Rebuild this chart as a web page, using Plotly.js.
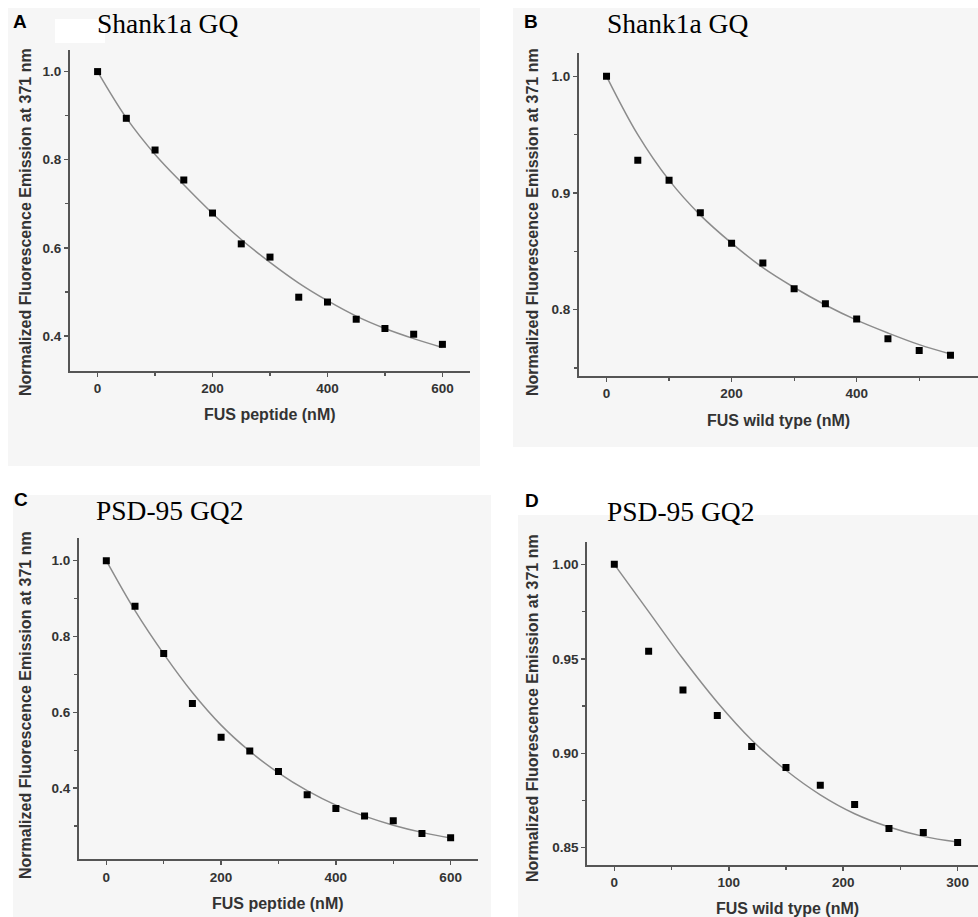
<!DOCTYPE html>
<html>
<head>
<meta charset="utf-8">
<script src="https://cdn.plot.ly/plotly-3.0.1.min.js"></script>
<style>html,body{margin:0;padding:0;background:#fff;}#chart{width:978px;height:917px;}</style>
</head>
<body>
<div id="chart"></div>
<script>
// ---- Data ----
// Panel A: Shank1a GQ vs FUS peptide
const xA = [0, 50, 100, 150, 200, 250, 300, 350, 400, 450, 500, 550, 600];
const yA = [1.0, 0.894, 0.822, 0.754, 0.679, 0.609, 0.579, 0.488, 0.477, 0.438, 0.417, 0.404, 0.381];
const fitA = [1.0, 0.895, 0.812, 0.743, 0.678, 0.619, 0.567, 0.520, 0.480, 0.445, 0.417, 0.394, 0.374];
// Panel B: Shank1a GQ vs FUS wild type
const xB = [0, 50, 100, 150, 200, 250, 300, 350, 400, 450, 500, 550];
const yB = [1.0, 0.928, 0.911, 0.883, 0.857, 0.840, 0.818, 0.805, 0.792, 0.775, 0.765, 0.761];
const fitB = [1.0, 0.950, 0.911, 0.881, 0.857, 0.836, 0.819, 0.804, 0.791, 0.780, 0.770, 0.762];
// Panel C: PSD-95 GQ2 vs FUS peptide
const xC = [0, 50, 100, 150, 200, 250, 300, 350, 400, 450, 500, 550, 600];
const yC = [1.0, 0.880, 0.755, 0.623, 0.534, 0.498, 0.444, 0.382, 0.346, 0.326, 0.314, 0.280, 0.269];
const fitC = [1.0, 0.868, 0.754, 0.652, 0.566, 0.497, 0.440, 0.393, 0.355, 0.326, 0.302, 0.283, 0.268];
// Panel D: PSD-95 GQ2 vs FUS wild type
const xD = [0, 30, 60, 90, 120, 150, 180, 210, 240, 270, 300];
const yD = [1.0, 0.954, 0.9335, 0.920, 0.9036, 0.8924, 0.883, 0.8729, 0.8601, 0.858, 0.8528];
const fitD = [1.0, 0.975, 0.950, 0.927, 0.907, 0.891, 0.878, 0.868, 0.861, 0.856, 0.853];

// Tick labels
const xTicksAC = ['0', '200', '400', '600'];
const xTicksB = ['0', '200', '400'];
const xTicksD = ['0', '100', '200', '300'];
const yTicksAC = ['0.4', '0.6', '0.8', '1.0'];
const yTicksB = ['0.8', '0.9', '1.0'];
const yTicksD = ['0.85', '0.90', '0.95', '1.00'];

const panelLetters = ['A', 'B', 'C', 'D'];
const panelTitles = ['Shank1a GQ', 'Shank1a GQ', 'PSD-95 GQ2', 'PSD-95 GQ2'];
const xTitles = ['FUS peptide (nM)', 'FUS wild type (nM)', 'FUS peptide (nM)', 'FUS wild type (nM)'];
const yTitle = 'Normalized Fluorescence Emission at 371 nm';

// ---- Figure ----
const W = 978, H = 917;
const px = v => v / W;
const py = v => 1 - v / H;

const fitLine = {color: '#8c8c8c', width: 1.5, shape: 'spline', smoothing: 1};
const mk = {symbol: 'square', size: 7, color: '#000'};

const sets = [[xA, yA, fitA], [xB, yB, fitB], [xC, yC, fitC], [xD, yD, fitD]];
const traces = [];
sets.forEach((s, i) => {
  const xa = i === 0 ? 'x' : 'x' + (i + 1);
  const ya = i === 0 ? 'y' : 'y' + (i + 1);
  traces.push({x: s[0], y: s[2], mode: 'lines', line: fitLine, xaxis: xa, yaxis: ya, hoverinfo: 'skip'});
  traces.push({x: s[0], y: s[1], mode: 'markers', marker: mk, xaxis: xa, yaxis: ya});
});

const sans = 'Liberation Sans, Arial, sans-serif';
function axis(domain, range, labels, mdtick, anchor) {
  return {
    domain: domain, range: range, anchor: anchor,
    showline: true, linecolor: '#555', linewidth: 2, mirror: false,
    showgrid: false, zeroline: false,
    ticks: 'outside', ticklen: 4, tickwidth: 1.5, tickcolor: '#555',
    tickmode: 'array',
    tickvals: labels.map(Number),
    ticktext: labels.map(t => '<b>' + t + '</b>'),
    tickfont: {family: sans, size: 13.5, color: '#333'},
    minor: {ticks: 'outside', ticklen: 3, tickwidth: 1.2, tickcolor: '#555', dtick: mdtick, tick0: 0, showgrid: false},
    fixedrange: true
  };
}

const layout = {
  width: W, height: H,
  margin: {l: 0, r: 0, t: 0, b: 0},
  paper_bgcolor: '#ffffff',
  plot_bgcolor: 'rgba(0,0,0,0)',
  font: {family: sans},
  showlegend: false,
  xaxis: axis([px(70), px(470)], [-48, 648], xTicksAC, 100, 'y'),
  yaxis: axis([py(371), py(50)], [0.3205, 1.049], yTicksAC, 0.1, 'x'),
  xaxis2: axis([px(579), 1], [-44, 594], xTicksB, 100, 'y2'),
  yaxis2: axis([py(375.7), py(53.3)], [0.7434, 1.0197], yTicksB, 0.05, 'x2'),
  xaxis3: axis([px(79), px(478.3)], [-47.6, 648.2], xTicksAC, 100, 'y3'),
  yaxis3: axis([py(859.3), py(538.3)], [0.212, 1.059], yTicksAC, 0.1, 'x3'),
  xaxis4: axis([px(587.3), 1], [-23.6, 317.8], xTicksD, 50, 'y4'),
  yaxis4: axis([py(864.7), py(541.7)], [0.841, 1.012], yTicksD, 0.025, 'x4'),
  shapes: [
    {type: 'rect', xref: 'paper', yref: 'paper', x0: px(8), x1: px(480), y0: py(466), y1: py(8), fillcolor: '#f6f6f6', line: {width: 0}, layer: 'below'},
    {type: 'rect', xref: 'paper', yref: 'paper', x0: px(513), x1: 1, y0: py(447), y1: py(8), fillcolor: '#f6f6f6', line: {width: 0}, layer: 'below'},
    {type: 'rect', xref: 'paper', yref: 'paper', x0: px(13), x1: px(491), y0: 0, y1: py(495), fillcolor: '#f6f6f6', line: {width: 0}, layer: 'below'},
    {type: 'rect', xref: 'paper', yref: 'paper', x0: px(518), x1: 1, y0: 0, y1: py(515), fillcolor: '#f6f6f6', line: {width: 0}, layer: 'below'},
    {type: 'rect', xref: 'paper', yref: 'paper', x0: px(55), x1: px(105), y0: py(43), y1: py(19), fillcolor: '#ffffff', line: {width: 0}, layer: 'below'}
  ],
  annotations: []
};

// Panel letters, serif titles, axis titles
const letterPos = [[20, 21], [531, 21], [21, 499], [532, 501]];
const titlePos = [[167, 24], [677, 24], [169, 510], [680, 511]];
const xtPos = [[270, 415], [778, 420], [278, 903], [787, 908]];
const ytPos = [[25, 222], [532, 222], [25, 705], [532, 708]];
for (let i = 0; i < 4; i++) {
  layout.annotations.push({text: '<b>' + panelLetters[i] + '</b>', xref: 'paper', yref: 'paper', x: px(letterPos[i][0]), y: py(letterPos[i][1]),
    showarrow: false, xanchor: 'center', yanchor: 'middle', font: {family: sans, size: 19, color: '#000'}});
  layout.annotations.push({text: panelTitles[i], xref: 'paper', yref: 'paper', x: px(titlePos[i][0]), y: py(titlePos[i][1]),
    showarrow: false, xanchor: 'center', yanchor: 'middle', font: {family: 'Liberation Serif, Times New Roman, serif', size: 27.5, color: '#000'}});
  layout.annotations.push({text: '<b>' + xTitles[i] + '</b>', xref: 'paper', yref: 'paper', x: px(xtPos[i][0]), y: py(xtPos[i][1]),
    showarrow: false, xanchor: 'center', yanchor: 'middle', font: {family: sans, size: 16, color: '#333'}});
  layout.annotations.push({text: '<b>' + yTitle + '</b>', xref: 'paper', yref: 'paper', x: px(ytPos[i][0]), y: py(ytPos[i][1]), textangle: -90,
    showarrow: false, xanchor: 'center', yanchor: 'middle', font: {family: sans, size: 16, color: '#333'}});
}

Plotly.newPlot('chart', traces, layout, {staticPlot: true, displayModeBar: false});
</script>
</body>
</html>
